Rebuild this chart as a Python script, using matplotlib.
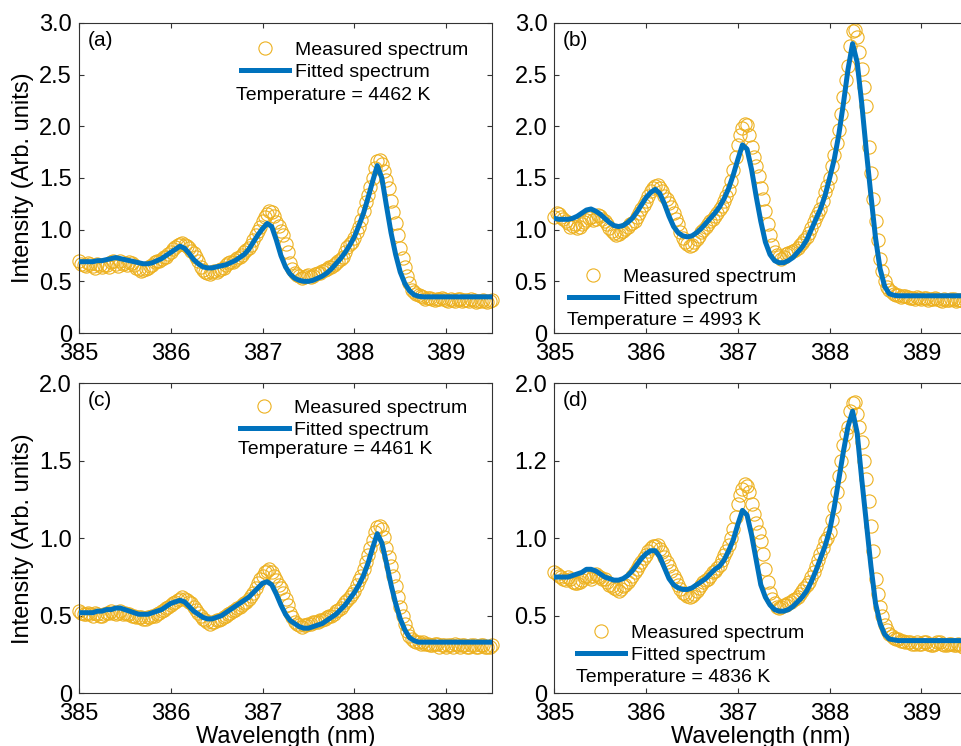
import numpy as np
import matplotlib.pyplot as plt
from matplotlib.lines import Line2D

plt.rcParams['font.family'] = ['Liberation Sans', 'DejaVu Sans']

# wavelength grid of the spectra (nm), 0.05 nm step; measured points also sit halfway between
wavelength = np.round(np.arange(385.0, 389.5001, 0.05), 2)
wavelength_mid = np.round(wavelength[:-1] + 0.025, 3)

# panel (a)
fit_a = [0.69, 0.69, 0.69, 0.69, 0.70, 0.70, 0.71, 0.72, 0.73, 0.72,
         0.71, 0.70, 0.69, 0.68, 0.67, 0.67, 0.68, 0.70, 0.72, 0.75,
         0.78, 0.81, 0.84, 0.82, 0.77, 0.71, 0.67, 0.64, 0.63, 0.63,
         0.64, 0.65, 0.66, 0.68, 0.70, 0.73, 0.76, 0.81, 0.88, 0.95,
         1.01, 1.06, 1.03, 0.90, 0.75, 0.64, 0.57, 0.53, 0.51, 0.50,
         0.50, 0.51, 0.53, 0.55, 0.58, 0.62, 0.67, 0.72, 0.78, 0.85,
         0.93, 1.04, 1.16, 1.31, 1.47, 1.62, 1.50, 1.23, 0.97, 0.76,
         0.59, 0.48, 0.41, 0.37, 0.355, 0.35, 0.35, 0.35, 0.35, 0.35,
         0.35, 0.35, 0.35, 0.35, 0.35, 0.35, 0.35, 0.35, 0.35, 0.35,
         0.35]
meas_a = [0.70, 0.66, 0.68, 0.65, 0.67, 0.64, 0.66, 0.69, 0.67, 0.70,
          0.68, 0.69, 0.66, 0.62, 0.61, 0.63, 0.66, 0.70, 0.72, 0.74,
          0.78, 0.83, 0.86, 0.85, 0.82, 0.77, 0.70, 0.61, 0.58, 0.59,
          0.59, 0.62, 0.66, 0.69, 0.71, 0.74, 0.78, 0.82, 0.90, 0.99,
          1.08, 1.15, 1.17, 1.07, 0.99, 0.86, 0.68, 0.58, 0.55, 0.54,
          0.56, 0.55, 0.58, 0.60, 0.62, 0.64, 0.68, 0.72, 0.78, 0.86,
          0.92, 1.03, 1.18, 1.34, 1.50, 1.66, 1.64, 1.48, 1.28, 1.06,
          0.82, 0.64, 0.48, 0.40, 0.37, 0.35, 0.34, 0.33, 0.33, 0.34,
          0.32, 0.33, 0.31, 0.33, 0.32, 0.31, 0.32, 0.31, 0.32, 0.30,
          0.32]
meas_a_mid = [0.67, 0.65, 0.67, 0.63, 0.66, 0.66, 0.64, 0.70, 0.65, 0.67,
              0.66, 0.68, 0.63, 0.60, 0.62, 0.65, 0.69, 0.70, 0.74, 0.76,
              0.81, 0.85, 0.87, 0.84, 0.79, 0.74, 0.64, 0.59, 0.57, 0.60,
              0.61, 0.63, 0.68, 0.69, 0.73, 0.75, 0.80, 0.85, 0.95, 1.03,
              1.12, 1.18, 1.13, 1.04, 0.95, 0.78, 0.62, 0.56, 0.53, 0.55,
              0.54, 0.57, 0.58, 0.61, 0.64, 0.66, 0.70, 0.74, 0.83, 0.88,
              0.98, 1.09, 1.27, 1.41, 1.60, 1.67, 1.57, 1.40, 1.17, 0.95,
              0.73, 0.55, 0.42, 0.38, 0.36, 0.33, 0.34, 0.32, 0.33, 0.33,
              0.31, 0.32, 0.33, 0.31, 0.32, 0.33, 0.30, 0.31, 0.31, 0.31]

# panel (b)
fit_b = [1.11, 1.10, 1.10, 1.10, 1.11, 1.13, 1.16, 1.19, 1.20, 1.18,
         1.15, 1.11, 1.07, 1.04, 1.03, 1.04, 1.07, 1.11, 1.17, 1.24,
         1.31, 1.36, 1.39, 1.35, 1.25, 1.13, 1.03, 0.97, 0.94, 0.93,
         0.94, 0.97, 1.01, 1.06, 1.11, 1.16, 1.22, 1.30, 1.40, 1.53,
         1.68, 1.82, 1.78, 1.58, 1.32, 1.08, 0.88, 0.76, 0.70, 0.68,
         0.68, 0.70, 0.73, 0.78, 0.83, 0.90, 1.00, 1.10, 1.20, 1.33,
         1.50, 1.68, 1.92, 2.22, 2.55, 2.80, 2.62, 2.22, 1.76, 1.33,
         0.92, 0.62, 0.45, 0.38, 0.365, 0.36, 0.36, 0.36, 0.36, 0.36,
         0.36, 0.36, 0.36, 0.36, 0.36, 0.36, 0.36, 0.36, 0.36, 0.36,
         0.36]
meas_b = [1.12, 1.15, 1.10, 1.06, 1.04, 1.02, 1.05, 1.09, 1.12, 1.10,
          1.13, 1.08, 1.02, 0.97, 0.96, 0.99, 1.03, 1.06, 1.12, 1.20,
          1.28, 1.37, 1.42, 1.40, 1.33, 1.26, 1.16, 1.05, 0.92, 0.86,
          0.85, 0.91, 0.98, 1.03, 1.08, 1.13, 1.20, 1.28, 1.38, 1.58,
          1.82, 1.98, 2.01, 1.80, 1.62, 1.40, 1.18, 0.95, 0.78, 0.74,
          0.74, 0.77, 0.79, 0.82, 0.87, 0.93, 1.02, 1.12, 1.20, 1.36,
          1.50, 1.72, 1.96, 2.28, 2.58, 2.92, 2.86, 2.55, 2.20, 1.55,
          1.08, 0.72, 0.50, 0.42, 0.38, 0.37, 0.36, 0.35, 0.34, 0.35,
          0.33, 0.34, 0.33, 0.34, 0.32, 0.33, 0.32, 0.33, 0.32, 0.31,
          0.33]
meas_b_mid = [1.16, 1.12, 1.08, 1.03, 1.05, 1.03, 1.07, 1.11, 1.09, 1.14,
              1.10, 1.05, 0.99, 0.95, 0.98, 1.01, 1.05, 1.08, 1.16, 1.24,
              1.33, 1.40, 1.43, 1.37, 1.30, 1.22, 1.10, 0.98, 0.88, 0.84,
              0.88, 0.94, 1.00, 1.05, 1.10, 1.16, 1.23, 1.33, 1.47, 1.70,
              1.92, 2.02, 1.92, 1.70, 1.52, 1.30, 1.05, 0.85, 0.75, 0.72,
              0.76, 0.78, 0.80, 0.85, 0.90, 0.97, 1.07, 1.16, 1.28, 1.42,
              1.62, 1.84, 2.12, 2.45, 2.78, 2.93, 2.72, 2.38, 1.80, 1.30,
              0.90, 0.60, 0.45, 0.40, 0.37, 0.35, 0.36, 0.34, 0.33, 0.34,
              0.34, 0.32, 0.33, 0.33, 0.31, 0.32, 0.33, 0.31, 0.32, 0.32]

# panel (c)
fit_c = [0.52, 0.52, 0.52, 0.52, 0.53, 0.53, 0.54, 0.54, 0.55, 0.55,
         0.54, 0.53, 0.52, 0.51, 0.51, 0.51, 0.52, 0.53, 0.54, 0.56,
         0.58, 0.59, 0.60, 0.59, 0.56, 0.53, 0.51, 0.49, 0.48, 0.48,
         0.49, 0.50, 0.52, 0.54, 0.56, 0.58, 0.60, 0.62, 0.65, 0.68,
         0.71, 0.72, 0.70, 0.64, 0.57, 0.51, 0.47, 0.45, 0.43, 0.42,
         0.42, 0.43, 0.44, 0.45, 0.47, 0.49, 0.51, 0.54, 0.57, 0.61,
         0.65, 0.70, 0.76, 0.84, 0.94, 1.03, 0.97, 0.84, 0.70, 0.58,
         0.48, 0.41, 0.36, 0.34, 0.33, 0.33, 0.33, 0.33, 0.33, 0.33,
         0.33, 0.33, 0.33, 0.33, 0.33, 0.33, 0.33, 0.33, 0.33, 0.33,
         0.33]
meas_c = [0.53, 0.51, 0.52, 0.50, 0.51, 0.50, 0.52, 0.53, 0.51, 0.53,
          0.52, 0.51, 0.50, 0.49, 0.48, 0.49, 0.50, 0.51, 0.53, 0.55,
          0.57, 0.59, 0.61, 0.61, 0.59, 0.56, 0.52, 0.48, 0.46, 0.46,
          0.47, 0.48, 0.50, 0.52, 0.54, 0.56, 0.58, 0.61, 0.65, 0.71,
          0.76, 0.79, 0.78, 0.73, 0.68, 0.61, 0.52, 0.46, 0.44, 0.44,
          0.45, 0.46, 0.46, 0.47, 0.49, 0.50, 0.53, 0.55, 0.59, 0.62,
          0.66, 0.73, 0.80, 0.89, 0.99, 1.07, 1.06, 0.94, 0.82, 0.69,
          0.56, 0.45, 0.37, 0.34, 0.33, 0.33, 0.32, 0.31, 0.32, 0.31,
          0.30, 0.31, 0.32, 0.30, 0.31, 0.30, 0.31, 0.30, 0.31, 0.30,
          0.31]
meas_c_mid = [0.52, 0.51, 0.51, 0.52, 0.50, 0.51, 0.52, 0.52, 0.52, 0.51,
              0.51, 0.50, 0.49, 0.49, 0.48, 0.49, 0.50, 0.52, 0.54, 0.56,
              0.58, 0.60, 0.62, 0.60, 0.58, 0.54, 0.50, 0.47, 0.45, 0.46,
              0.47, 0.49, 0.51, 0.53, 0.55, 0.57, 0.59, 0.63, 0.68, 0.74,
              0.78, 0.80, 0.76, 0.70, 0.65, 0.57, 0.49, 0.45, 0.43, 0.44,
              0.45, 0.46, 0.47, 0.48, 0.50, 0.51, 0.54, 0.57, 0.60, 0.64,
              0.70, 0.76, 0.85, 0.94, 1.04, 1.08, 1.01, 0.88, 0.76, 0.62,
              0.50, 0.40, 0.35, 0.33, 0.32, 0.32, 0.31, 0.32, 0.30, 0.31,
              0.31, 0.30, 0.31, 0.31, 0.30, 0.31, 0.30, 0.31, 0.30, 0.30]

# panel (d)
fit_d = [0.75, 0.75, 0.75, 0.75, 0.76, 0.77, 0.78, 0.80, 0.80, 0.79,
         0.77, 0.75, 0.74, 0.73, 0.73, 0.74, 0.76, 0.79, 0.83, 0.87,
         0.90, 0.92, 0.92, 0.88, 0.81, 0.74, 0.70, 0.68, 0.67, 0.67,
         0.68, 0.70, 0.72, 0.74, 0.77, 0.80, 0.82, 0.86, 0.92, 0.99,
         1.09, 1.18, 1.15, 1.02, 0.86, 0.70, 0.62, 0.57, 0.54, 0.53,
         0.53, 0.54, 0.56, 0.59, 0.62, 0.66, 0.72, 0.79, 0.87, 0.95,
         1.05, 1.20, 1.38, 1.56, 1.72, 1.82, 1.68, 1.38, 1.10, 0.82,
         0.58, 0.45, 0.38, 0.35, 0.345, 0.34, 0.34, 0.34, 0.34, 0.34,
         0.34, 0.34, 0.34, 0.34, 0.34, 0.34, 0.34, 0.34, 0.34, 0.34,
         0.34]
meas_d = [0.78, 0.76, 0.74, 0.75, 0.72, 0.71, 0.73, 0.76, 0.74, 0.77,
          0.75, 0.74, 0.70, 0.68, 0.66, 0.69, 0.72, 0.76, 0.80, 0.85,
          0.89, 0.94, 0.95, 0.93, 0.88, 0.82, 0.76, 0.70, 0.65, 0.63,
          0.63, 0.66, 0.70, 0.73, 0.76, 0.79, 0.83, 0.89, 0.96, 1.06,
          1.22, 1.32, 1.34, 1.22, 1.10, 0.98, 0.80, 0.65, 0.58, 0.55,
          0.57, 0.58, 0.60, 0.62, 0.66, 0.70, 0.75, 0.82, 0.90, 0.98,
          1.04, 1.20, 1.40, 1.60, 1.72, 1.87, 1.80, 1.62, 1.38, 1.08,
          0.74, 0.56, 0.44, 0.38, 0.36, 0.35, 0.34, 0.33, 0.32, 0.33,
          0.32, 0.33, 0.31, 0.32, 0.33, 0.31, 0.32, 0.31, 0.32, 0.30,
          0.31]
meas_d_mid = [0.77, 0.75, 0.73, 0.74, 0.71, 0.72, 0.75, 0.75, 0.76, 0.76,
              0.74, 0.72, 0.69, 0.67, 0.67, 0.70, 0.74, 0.78, 0.83, 0.87,
              0.92, 0.95, 0.96, 0.91, 0.85, 0.79, 0.73, 0.67, 0.64, 0.62,
              0.64, 0.68, 0.72, 0.74, 0.78, 0.81, 0.86, 0.92, 1.00, 1.14,
              1.28, 1.35, 1.30, 1.16, 1.04, 0.90, 0.72, 0.61, 0.56, 0.56,
              0.57, 0.59, 0.61, 0.64, 0.68, 0.72, 0.78, 0.86, 0.94, 1.00,
              1.12, 1.30, 1.50, 1.67, 1.82, 1.88, 1.72, 1.50, 1.24, 0.92,
              0.64, 0.50, 0.41, 0.37, 0.35, 0.34, 0.33, 0.33, 0.32, 0.32,
              0.33, 0.32, 0.31, 0.33, 0.32, 0.31, 0.32, 0.31, 0.31, 0.31]

panel_tags = ['(a)', '(b)', '(c)', '(d)']
temperatures = [4462, 4993, 4461, 4836]
x_ticks = [385, 386, 387, 388, 389]
y_ticks_top = [0, 0.5, 1.0, 1.5, 2.0, 2.5, 3.0]
y_labels_top = ['0', '0.5', '1.0', '1.5', '2.0', '2.5', '3.0']
y_ticks_bottom = [0, 0.5, 1.0, 1.5, 2.0]
y_labels_c = ['0', '0.5', '1.0', '1.5', '2.0']
y_labels_d = ['0', '0.5', '1.0', '1.2', '2.0']

ORANGE = '#EDB120'
BLUE = '#0072BD'
EDGE = '#333333'

fig = plt.figure(figsize=(9.61, 7.46), dpi=100)
W, H = 961, 746
ax_w, ax_h = 413, 310
lefts = [79, 554.3, 79, 554.3]
tops = [23, 23, 383.3, 383.3]

panels = [
    (fit_a, meas_a, meas_a_mid, 3.0, y_ticks_top, y_labels_top),
    (fit_b, meas_b, meas_b_mid, 3.0, y_ticks_top, y_labels_top),
    (fit_c, meas_c, meas_c_mid, 2.0, y_ticks_bottom, y_labels_c),
    (fit_d, meas_d, meas_d_mid, 2.0, y_ticks_bottom, y_labels_d),
]
# legend / temperature placement (axes fraction)
leg_pos = [(0.392, 0.940), (0.036, 0.209), (0.391, 0.949), (0.056, 0.222)]
temp_pos = [(0.380, 0.765), (0.030, 0.041), (0.385, 0.785), (0.0525, 0.050)]

for i, (fit, meas, meas_mid, ymax, yt, yl) in enumerate(panels):
    ax = fig.add_axes([lefts[i] / W, (H - tops[i] - ax_h) / H, ax_w / W, ax_h / H])
    x_meas = np.concatenate([wavelength, wavelength_mid])
    y_meas = np.concatenate([meas, meas_mid])
    ax.plot(x_meas, y_meas, 'o', ls='none', mfc='none', mec=ORANGE,
            ms=9.5, mew=0.8, clip_on=False, zorder=2)
    ax.plot(wavelength, fit, '-', color=BLUE, lw=3.6, zorder=3)
    ax.set_xlim(385, 389.5)
    ax.set_ylim(0, ymax)
    ax.set_xticks(x_ticks)
    ax.set_xticklabels([str(t) for t in x_ticks])
    ax.set_yticks(yt)
    ax.set_yticklabels(yl)
    ax.tick_params(direction='in', top=True, right=True, length=3.6,
                   width=0.8, color=EDGE, labelsize=17)
    ax.tick_params(axis='x', pad=7)
    ax.tick_params(axis='y', pad=5)
    for s in ax.spines.values():
        s.set_color(EDGE)
        s.set_linewidth(0.8)
    if i % 2 == 0:
        ax.set_ylabel('Intensity (Arb. units)', fontsize=17, labelpad=4)
    if i >= 2:
        ax.set_xlabel('Wavelength (nm)', fontsize=17, labelpad=1)
    ax.text(0.02, 0.975, panel_tags[i], transform=ax.transAxes,
            fontsize=15, va='top', ha='left')
    handles = [
        Line2D([], [], marker='o', ls='none', mfc='none', mec=ORANGE, ms=9.5, mew=0.8),
        Line2D([], [], color=BLUE, lw=3.6),
    ]
    ax.legend(handles, ['Measured spectrum', 'Fitted spectrum'], loc='upper left',
              bbox_to_anchor=leg_pos[i], frameon=False, fontsize=14,
              borderpad=0, borderaxespad=0, handlelength=2.47,
              handletextpad=0.3, labelspacing=0.22)
    ax.text(temp_pos[i][0], temp_pos[i][1], f'Temperature = {temperatures[i]} K',
            transform=ax.transAxes, fontsize=14, va='center', ha='left')

fig.savefig('out.png', dpi=100)
